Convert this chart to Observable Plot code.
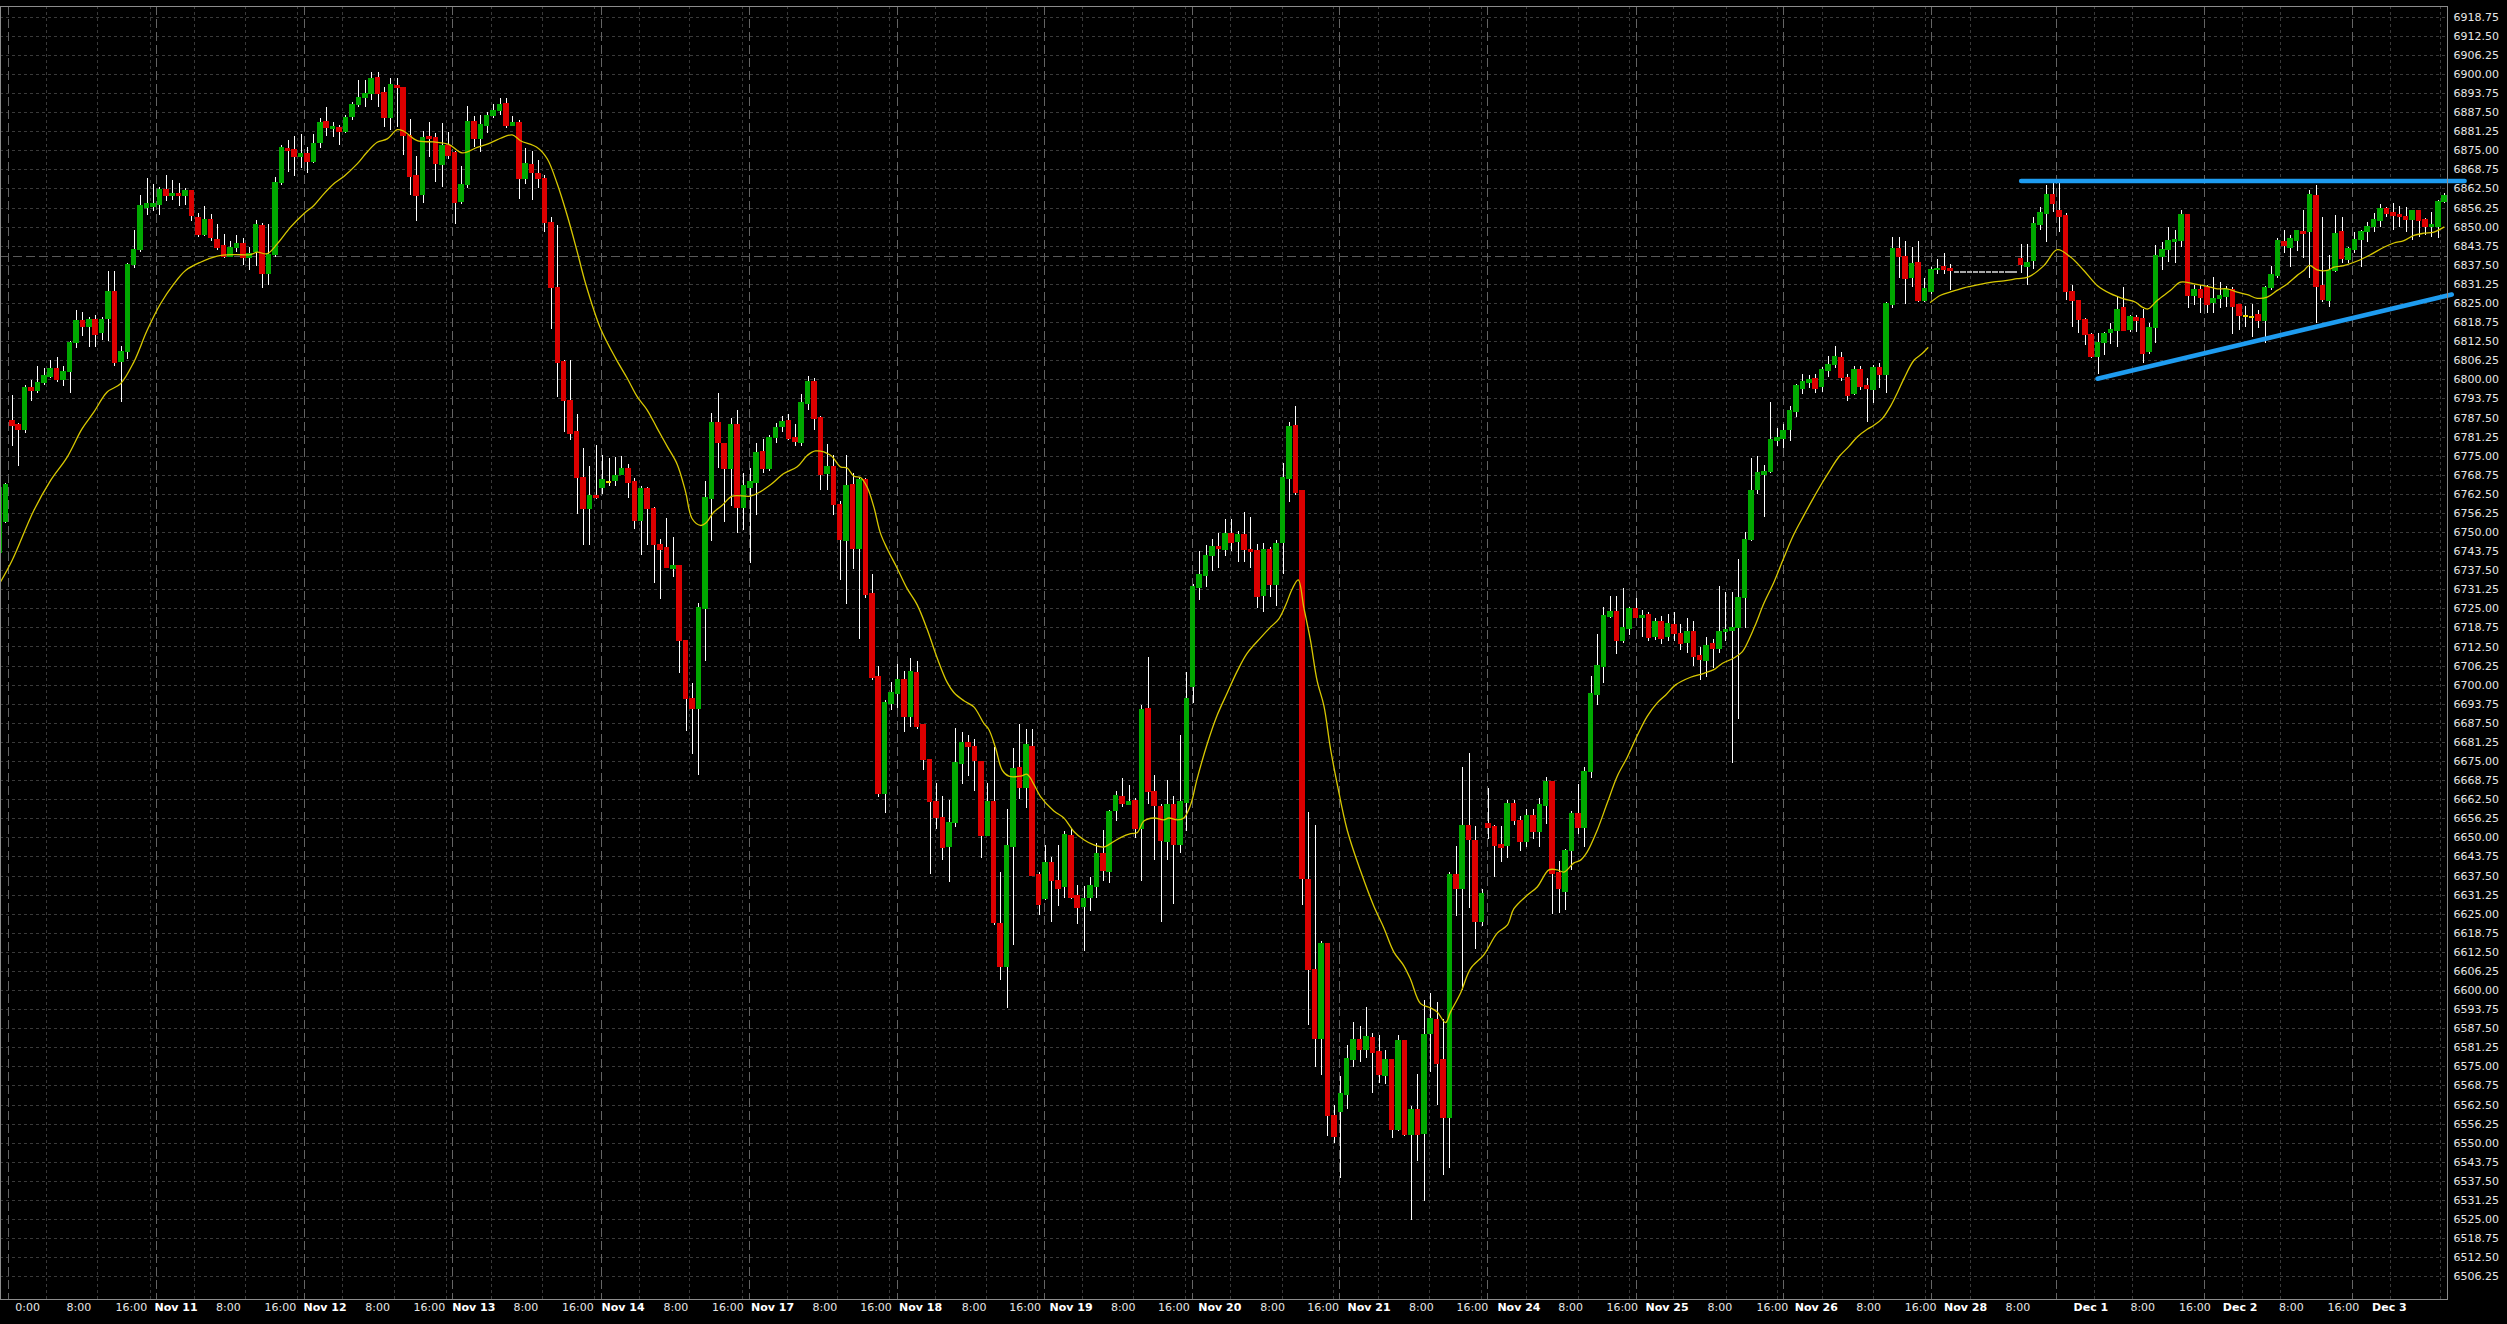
<!DOCTYPE html>
<html><head><meta charset="utf-8">
<script src="https://cdn.jsdelivr.net/npm/d3@7"></script>
<script src="https://cdn.jsdelivr.net/npm/@observablehq/plot@0.6"></script>
<style>
html,body{margin:0;padding:0;background:#000;overflow:hidden;}
svg{display:block;}
</style></head><body>
<script>
// Hourly candles, index 0..381
const opens = [
6743.5,6753.6,6786.4,6785.0,6783.6,6797.2,6796.5,6798.9,6801.1,6803.3,
6800.1,6802.5,6812.0,6819.1,6817.3,6819.6,6815.3,6819.9,6828.6,6805.8,
6809.1,6837.8,6842.7,6856.5,6856.8,6857.4,6862.2,6860.4,6860.9,6860.4,
6861.7,6853.0,6847.6,6852.2,6845.8,6843.8,6840.2,6843.4,6844.5,6840.0,
6841.8,6850.3,6834.9,6841.0,6864.5,6875.6,6875.1,6873.0,6873.8,6871.5,
6877.5,6884.4,6882.2,6882.5,6881.1,6886.0,6890.2,6892.3,6893.7,6898.6,
6893.9,6885.7,6896.1,6895.3,6879.7,6866.5,6860.5,6879.4,6879.1,6870.6,
6876.4,6874.2,6858.3,6863.8,6884.2,6879.1,6883.2,6886.5,6888.0,6890.2,
6883.2,6883.9,6865.7,6870.2,6867.2,6865.7,6851.3,6830.0,6805.6,6793.0,
6782.7,6767.8,6757.9,6761.9,6764.6,6766.35,6766.8,6768.9,6770.8,6766.35,
6754.0,6764.1,6757.7,6745.9,6744.8,6738.2,6738.9,6714.4,6695.5,6692.2,
6725.1,6761.2,6785.6,6779.0,6770.8,6785.2,6758.2,6764.6,6766.4,6776.3,
6770.8,6780.9,6784.6,6786.4,6780.7,6779.4,6792.3,6799.3,6787.4,6769.3,
6771.5,6759.0,6747.4,6765.3,6744.6,6767.1,6729.6,6702.6,6664.5,6693.9,
6697.2,6701.6,6689.8,6704.0,6686.9,6675.5,6661.6,6656.4,6647.0,6654.8,
6674.2,6680.8,6679.8,6674.8,6650.8,6661.5,6621.6,6607.7,6647.2,6672.8,
6666.4,6679.8,6637.7,6630.0,6641.7,6635.7,6634.1,6650.4,6630.7,6627.6,
6630.3,6634.1,6644.5,6639.0,6658.8,6663.2,6660.8,6662.1,6653.0,6692.2,
6664.8,6660.1,6648.8,6660.8,6647.7,6661.5,6699.6,6731.9,6735.9,6742.3,
6745.2,6744.3,6749.3,6747.0,6749.0,6744.3,6743.7,6729.2,6744.2,6732.9,
6746.5,6767.7,6784.7,6763.4,6636.2,6606.7,6584.1,6615.2,6558.9,6560.2,
6565.9,6577.4,6583.6,6580.6,6584.5,6579.7,6572.1,6577.1,6554.3,6583.3,
6552.7,6560.7,6553.1,6585.9,6590.4,6577.1,6558.4,6637.8,6633.3,6653.9,
6648.9,6622.7,6654.3,6653.4,6647.5,6647.5,6661.0,6655.5,6648.6,6657.0,
6652.1,6660.5,6668.1,6638.3,6632.4,6645.7,6657.8,6653.4,6671.6,6696.9,
6706.1,6722.4,6723.8,6714.6,6718.5,6724.9,6722.0,6722.8,6715.8,6720.5,
6715.9,6719.7,6716.8,6713.9,6717.4,6709.6,6708.0,6713.3,6711.8,6717.4,
6717.7,6718.7,6728.7,6747.5,6764.0,6769.0,6769.8,6780.1,6780.7,6783.6,
6789.7,6797.0,6799.2,6800.1,6797.6,6803.0,6804.8,6807.0,6800.5,6795.5,
6803.0,6797.9,6796.6,6803.9,6801.8,6824.6,6842.7,6840.2,6833.3,6838.0,
6825.8,6828.7,6836.0,6836.7,6836.1,6835.2,6835.2,6835.2,6835.2,6835.2,
6835.2,6835.2,6835.2,6835.2,6835.2,6839.4,6837.2,6839.1,6850.9,6854.4,
6860.4,6855.1,6853.5,6828.7,6825.8,6819.4,6814.5,6807.6,6812.0,6815.3,
6816.2,6823.3,6816.4,6820.3,6819.7,6809.1,6817.2,6840.4,6842.6,6845.1,
6845.6,6853.8,6827.6,6829.3,6830.1,6825.1,6826.5,6827.3,6829.3,6824.3,
6820.8,6820.5,6821.1,6819.2,6830.0,6834.2,6845.1,6843.4,6845.4,6848.4,
6848.4,6860.0,6830.6,6826.0,6835.6,6848.4,6839.4,6842.6,6845.9,6848.6,
6850.0,6852.2,6855.7,6854.4,6853.8,6853.3,6852.4,6855.1,6852.2,6850.0,
6850.2,6858.2];
const highs = [
6765.0,6766.0,6794.9,6785.6,6798.1,6799.8,6804.4,6803.6,6806.3,6807.4,
6804.4,6812.7,6822.7,6822.2,6820.5,6821.1,6820.5,6835.6,6835.6,6810.9,
6838.0,6848.9,6860.4,6866.0,6864.0,6863.1,6866.8,6865.3,6864.4,6862.8,
6862.0,6854.4,6856.8,6854.1,6850.9,6847.6,6845.4,6847.3,6846.2,6843.4,
6852.2,6851.1,6850.9,6866.4,6876.7,6878.4,6879.7,6880.3,6876.2,6880.3,
6885.5,6889.3,6884.1,6883.3,6886.6,6890.9,6898.0,6898.0,6900.5,6900.5,
6895.6,6898.6,6898.6,6895.6,6885.3,6873.1,6881.3,6884.2,6880.5,6883.9,
6881.0,6874.9,6869.7,6889.4,6886.2,6886.5,6887.7,6890.2,6892.1,6892.1,
6886.2,6885.0,6875.8,6874.9,6871.9,6866.9,6853.1,6850.6,6806.4,6806.4,
6788.6,6777.5,6771.5,6778.5,6775.2,6774.1,6774.5,6774.9,6772.3,6767.8,
6764.9,6764.6,6758.2,6747.8,6754.5,6748.5,6739.2,6714.7,6700.4,6726.6,
6766.6,6789.0,6795.6,6779.3,6787.4,6790.1,6769.3,6770.8,6779.3,6780.4,
6781.9,6785.6,6787.9,6788.6,6785.3,6795.3,6801.2,6800.5,6787.9,6778.9,
6775.1,6760.0,6775.1,6769.3,6768.0,6767.7,6736.3,6706.2,6694.9,6700.9,
6706.9,6704.6,6708.6,6707.8,6687.2,6675.8,6667.7,6663.7,6662.1,6685.8,
6684.6,6683.5,6682.2,6675.1,6667.7,6679.5,6638.7,6659.2,6679.2,6687.1,
6685.5,6685.5,6638.7,6647.4,6643.7,6647.4,6652.1,6652.8,6634.5,6634.1,
6637.0,6648.1,6652.5,6658.8,6665.1,6669.5,6667.1,6662.8,6693.5,6708.9,
6670.4,6660.8,6668.8,6663.5,6683.5,6704.2,6733.0,6743.7,6745.7,6747.6,
6749.7,6754.1,6754.1,6750.3,6756.7,6755.0,6746.2,6746.5,6745.1,6747.4,
6772.6,6786.1,6791.3,6763.6,6658.2,6653.9,6616.1,6615.5,6562.5,6571.7,
6581.9,6589.5,6588.1,6594.3,6585.9,6585.4,6580.3,6577.4,6585.4,6583.6,
6562.0,6572.6,6596.6,6598.9,6596.0,6590.4,6638.6,6647.2,6672.9,6677.7,
6653.7,6633.0,6666.3,6653.9,6653.7,6662.2,6662.2,6656.9,6659.2,6659.2,
6662.8,6669.9,6668.5,6642.2,6646.3,6658.7,6667.6,6672.9,6703.0,6716.7,
6725.3,6729.2,6729.2,6731.5,6725.3,6728.5,6724.4,6723.7,6721.8,6722.4,
6723.1,6723.7,6719.9,6721.8,6720.8,6712.4,6715.5,6714.9,6732.2,6730.2,
6730.2,6741.2,6750.0,6774.2,6775.0,6771.9,6792.6,6784.1,6785.5,6791.1,
6798.6,6801.6,6801.4,6801.6,6804.1,6807.6,6810.8,6808.9,6801.7,6804.2,
6804.5,6800.4,6804.8,6805.4,6825.4,6846.5,6846.5,6845.2,6843.4,6845.2,
6833.3,6836.7,6839.3,6841.2,6837.7,6835.2,6835.2,6835.2,6835.2,6835.2,
6835.2,6835.2,6835.2,6835.2,6835.2,6844.3,6844.3,6853.3,6856.5,6863.6,
6864.2,6864.2,6854.4,6830.9,6826.0,6820.0,6815.1,6815.3,6815.6,6818.3,
6827.1,6830.1,6821.1,6821.1,6822.9,6818.6,6844.0,6845.1,6850.0,6848.9,
6855.5,6854.1,6830.9,6830.9,6830.9,6833.4,6832.0,6830.4,6830.1,6824.7,
6824.0,6824.7,6822.7,6830.4,6837.1,6846.2,6848.9,6847.3,6848.9,6855.4,
6862.0,6863.6,6853.3,6840.7,6853.8,6853.3,6843.4,6848.4,6848.9,6851.6,
6854.4,6857.4,6856.5,6857.6,6856.8,6856.5,6855.5,6855.5,6852.7,6854.9,
6858.7,6860.9];
const lows = [
6742.0,6753.0,6778.0,6771.7,6782.3,6793.0,6795.4,6798.1,6800.3,6799.2,
6797.8,6795.6,6810.4,6814.2,6810.7,6810.7,6812.9,6812.7,6804.2,6792.7,
6806.6,6836.4,6841.8,6853.8,6855.2,6853.8,6858.5,6858.7,6856.9,6857.1,
6852.0,6846.7,6847.0,6845.4,6842.3,6839.6,6840.0,6841.8,6837.4,6835.8,
6837.1,6829.8,6830.9,6840.2,6863.6,6868.0,6866.6,6869.1,6867.7,6870.7,
6875.9,6879.7,6879.5,6876.7,6880.6,6884.9,6889.3,6889.1,6891.5,6889.3,
6882.5,6881.7,6882.7,6873.5,6860.5,6852.0,6857.8,6872.8,6864.7,6863.0,
6872.2,6850.9,6857.3,6862.5,6876.1,6874.6,6880.5,6885.7,6886.5,6882.3,
6882.8,6859.0,6863.8,6858.6,6862.7,6848.4,6816.5,6794.1,6782.9,6780.0,
6755.9,6745.9,6745.9,6760.7,6762.6,6764.9,6765.2,6768.6,6761.2,6751.1,
6742.6,6745.6,6733.3,6728.2,6738.2,6735.2,6703.8,6684.8,6677.4,6670.4,
6707.8,6747.1,6770.8,6753.4,6758.6,6749.7,6750.5,6739.9,6755.7,6769.3,
6770.1,6779.0,6782.7,6780.0,6778.2,6778.2,6790.1,6783.4,6763.7,6763.7,
6755.7,6734.3,6726.3,6738.0,6714.8,6728.3,6701.6,6663.2,6658.1,6691.8,
6692.2,6684.6,6686.2,6685.5,6672.2,6638.1,6652.8,6642.7,6635.4,6653.4,
6667.5,6670.2,6665.1,6643.2,6650.4,6621.4,6603.3,6594.0,6614.7,6662.5,
6659.7,6637.4,6624.7,6629.5,6622.3,6627.6,6630.3,6629.8,6621.6,6612.7,
6626.0,6630.0,6635.7,6635.0,6655.2,6660.1,6660.5,6649.8,6635.7,6660.8,
6642.7,6622.3,6642.7,6628.1,6645.0,6652.1,6693.9,6727.6,6731.9,6737.3,
6738.3,6742.1,6743.9,6740.3,6740.3,6738.3,6725.2,6723.8,6728.8,6725.8,
6736.3,6759.9,6762.2,6628.0,6588.6,6574.7,6572.1,6552.2,6549.9,6538.5,
6561.1,6574.7,6576.5,6577.9,6566.4,6569.4,6569.1,6551.7,6554.0,6552.2,
6524.7,6543.9,6530.9,6573.0,6562.3,6539.3,6541.6,6624.4,6600.1,6626.8,
6613.4,6620.9,6649.3,6636.9,6641.8,6643.3,6653.9,6645.4,6646.8,6649.3,
6646.8,6654.3,6625.0,6625.3,6626.2,6639.2,6651.1,6646.8,6669.3,6693.3,
6700.4,6721.7,6710.2,6713.7,6716.4,6721.7,6715.5,6714.3,6714.5,6713.4,
6714.3,6714.3,6711.2,6710.5,6706.1,6701.4,6702.6,6705.5,6710.5,6714.3,
6674.2,6688.9,6718.7,6746.9,6762.5,6754.8,6769.4,6778.2,6777.6,6779.8,
6787.8,6795.1,6797.0,6795.4,6795.7,6800.7,6803.6,6799.5,6792.9,6794.9,
6796.4,6786.1,6792.4,6797.0,6795.5,6823.3,6833.3,6824.6,6830.2,6825.4,
6825.4,6827.9,6834.6,6834.6,6829.3,6835.2,6835.2,6835.2,6835.2,6835.2,
6835.2,6835.2,6835.2,6835.2,6835.2,6834.9,6830.9,6836.0,6848.9,6845.1,
6854.9,6848.4,6826.0,6817.0,6815.3,6811.2,6806.9,6801.8,6808.0,6811.6,
6810.7,6815.9,6815.6,6815.6,6805.2,6808.3,6811.8,6835.8,6838.5,6838.2,
6843.4,6823.3,6824.3,6821.6,6821.6,6821.6,6823.3,6823.8,6814.8,6816.2,
6817.0,6814.0,6816.7,6812.0,6829.3,6833.1,6841.3,6836.9,6842.1,6839.6,
6833.1,6818.3,6825.4,6823.8,6835.3,6838.0,6838.0,6841.3,6836.9,6845.1,
6848.4,6850.0,6853.3,6848.9,6850.0,6848.4,6845.6,6846.7,6847.3,6846.5,
6846.2,6857.6];
const closes = [
6764.5,6765.4,6785.0,6783.6,6797.2,6796.5,6798.7,6801.1,6803.3,6800.1,
6802.5,6812.0,6819.1,6817.3,6819.4,6814.8,6819.4,6828.6,6805.5,6809.0,
6837.5,6842.4,6856.8,6857.4,6857.4,6862.0,6860.4,6860.9,6860.4,6861.7,
6853.6,6847.6,6852.2,6846.4,6843.1,6840.2,6843.0,6844.5,6840.0,6841.0,
6850.5,6834.9,6840.7,6864.5,6875.9,6875.1,6873.1,6874.0,6871.3,6877.1,
6884.0,6882.4,6882.7,6881.1,6885.8,6889.8,6892.2,6893.4,6898.4,6893.7,
6885.7,6896.4,6895.5,6880.0,6866.5,6860.2,6879.1,6878.8,6870.9,6876.4,
6873.4,6858.0,6863.8,6884.2,6879.1,6883.2,6886.2,6887.8,6889.9,6883.1,
6883.9,6865.7,6870.5,6867.9,6866.0,6851.3,6830.0,6805.6,6793.3,6782.4,
6768.1,6757.9,6761.9,6761.5,6767.1,6766.35,6768.3,6770.8,6766.35,6753.7,
6764.1,6757.9,6746.0,6744.5,6738.5,6738.9,6714.4,6695.5,6692.2,6725.1,
6761.2,6785.6,6779.3,6770.8,6785.2,6758.2,6765.2,6766.4,6776.0,6770.8,
6780.7,6784.1,6786.2,6780.7,6779.7,6792.3,6799.3,6787.4,6768.9,6771.5,
6759.0,6747.7,6765.0,6744.6,6767.1,6729.6,6702.6,6664.5,6693.9,6697.2,
6701.6,6689.8,6704.2,6686.5,6675.5,6661.9,6656.5,6646.8,6654.8,6674.4,
6681.1,6680.0,6675.2,6650.8,6661.5,6622.3,6607.7,6647.2,6672.6,6666.4,
6680.2,6637.7,6628.1,6641.7,6636.1,6633.4,6650.8,6630.3,6627.1,6630.0,
6634.1,6644.5,6639.4,6658.4,6663.5,6661.1,6661.5,6653.0,6691.8,6665.1,
6660.5,6649.0,6660.8,6647.7,6661.5,6695.5,6731.9,6735.9,6742.3,6745.2,
6744.6,6749.3,6746.7,6749.0,6744.3,6743.7,6729.0,6744.2,6732.9,6746.0,
6767.7,6784.4,6763.0,6636.5,6606.7,6584.1,6615.2,6558.9,6552.2,6565.9,
6577.4,6583.6,6580.6,6584.7,6579.7,6572.3,6577.1,6554.3,6583.3,6552.7,
6560.7,6552.7,6585.4,6590.7,6576.2,6558.4,6637.8,6633.3,6653.9,6649.3,
6622.7,6631.5,6653.4,6647.5,6646.8,6661.0,6655.5,6648.6,6657.0,6652.1,
6660.5,6668.1,6638.3,6633.3,6645.7,6657.8,6653.4,6671.6,6696.9,6706.1,
6722.6,6723.8,6714.6,6718.5,6724.9,6722.2,6722.7,6715.5,6720.5,6715.2,
6719.9,6716.8,6713.7,6717.4,6709.3,6708.3,6712.6,6711.8,6717.4,6718.0,
6718.7,6728.4,6747.5,6763.5,6769.3,6769.7,6780.1,6780.7,6783.2,6789.7,
6797.9,6799.1,6799.9,6797.0,6803.0,6804.8,6807.3,6800.7,6794.9,6803.0,
6797.9,6797.0,6803.9,6801.8,6824.6,6842.7,6840.2,6833.0,6837.7,6825.8,
6829.8,6835.8,6836.1,6836.2,6835.6,6835.2,6835.2,6835.2,6835.2,6835.2,
6835.2,6835.2,6835.2,6835.2,6835.2,6837.8,6838.3,6850.9,6854.4,6860.4,
6857.6,6853.3,6828.7,6825.8,6819.7,6814.8,6807.6,6812.0,6814.8,6816.2,
6822.9,6816.2,6820.5,6819.4,6808.7,6817.0,6840.4,6842.4,6845.4,6845.6,
6853.8,6827.6,6829.3,6826.9,6824.7,6826.5,6827.3,6829.3,6824.0,6821.1,
6820.8,6820.5,6819.2,6830.0,6834.2,6845.4,6843.8,6845.9,6848.6,6847.8,
6860.4,6830.4,6826.2,6835.6,6847.8,6839.6,6842.6,6845.6,6848.4,6850.0,
6852.2,6855.7,6854.4,6853.8,6853.3,6852.4,6855.1,6852.0,6850.0,6850.5,
6858.2,6860.0];

// Moving average: [bar index, price]
const maPart1 = [
[0.17,6733.8],[1.99,6740.9],[5.36,6757.2],[7.96,6767.0],[10.56,6774.7],[12.89,6784.0],[14.71,6789.4],[16.79,6796.0],
[18.87,6798.7],[20.94,6805.8],[23.02,6816.2],[25.10,6824.9],[27.18,6831.4],[29.00,6835.8],[31.33,6838.5],[33.93,6840.5],
[36.52,6841.0],[39.12,6841.0],[40.16,6841.8],[41.72,6841.3],[43.28,6844.5],[45.36,6850.0],[47.43,6854.4],[48.99,6857.1],
[50.55,6860.9],[52.10,6864.2],[53.66,6866.6],[55.74,6870.7],[57.30,6874.6],[58.86,6877.8],[60.42,6878.9],[61.98,6881.9],
[63.01,6881.4],[65.09,6878.3],[67.69,6877.9],[70.02,6877.1],[72.10,6874.3],[74.44,6876.1],[76.52,6877.6],[78.08,6879.1],
[79.90,6880.2],[81.19,6878.3],[83.79,6876.1],[85.35,6872.4],[86.91,6864.2],[88.47,6853.8],[90.02,6842.0],[91.32,6831.6],
[93.66,6816.8],[96.00,6807.1],[97.82,6800.5],[99.37,6794.5],[100.93,6790.1],[102.49,6784.1],[104.05,6778.2],[105.61,6772.3],
[106.90,6763.4],[107.94,6754.5],[109.24,6752.3],[110.02,6753.0],[111.32,6756.7],[112.62,6758.9],[114.18,6761.9],[117.03,6761.9],
[118.59,6763.4],[120.15,6765.6],[122.22,6769.3],[124.30,6771.5],[125.86,6775.2],[127.16,6776.7],[129.50,6775.3],[131.05,6771.5],
[132.09,6771.1],[133.13,6768.4],[134.17,6768.0],[135.21,6764.8],[136.24,6758.4],[137.28,6749.7],[138.32,6744.7],[139.88,6738.3],
[141.44,6731.6],[143.00,6726.3],[144.55,6718.3],[146.11,6708.9],[147.67,6700.9],[148.71,6697.6],[150.27,6694.9],[151.82,6692.9],
[153.38,6687.5],[154.16,6685.5],[155.20,6679.5],[156.24,6672.2],[157.28,6670.2],[159.10,6670.2],[160.14,6670.8],[161.18,6667.5],
[162.21,6663.5],[164.29,6658.8],[165.85,6656.5],[167.40,6652.1],[168.96,6649.4],[170.52,6647.7],[172.08,6647.0],[173.12,6648.1],
[174.68,6650.1],[176.24,6651.4],[177.28,6651.7],[178.32,6655.5],[179.87,6656.5],[181.43,6655.9],[182.21,6656.5],[183.51,6655.9],
[184.55,6656.5],[185.59,6660.8],[186.63,6669.5],[188.19,6680.8],[189.75,6690.2],[191.31,6697.5],[192.86,6704.6],[194.42,6710.5],
[196.49,6715.5],[198.05,6719.0],[199.35,6721.7],[200.39,6726.1],[201.43,6731.5],[202.36,6734.5],[203.25,6725.3],[204.28,6714.6],
[205.32,6701.3],[206.36,6693.3],[207.40,6679.1],[208.44,6667.6],[210.00,6652.5],[212.07,6639.2],[214.15,6627.6],[215.71,6620.5],
[217.27,6612.6],[218.82,6608.1],[219.86,6603.7],[221.42,6595.7],[222.98,6594.3],[224.02,6593.0],[225.32,6589.5],[226.10,6593.0],
[227.66,6599.2],[229.22,6607.2],[231.29,6611.7],[233.37,6618.8],[234.93,6621.4],[235.97,6626.8],[238.04,6631.2],[239.60,6633.9],
[241.42,6639.5],[242.72,6639.5],[243.76,6638.8],[245.32,6641.8],[246.36,6642.7],[247.39,6645.4],[248.95,6652.5],[250.51,6661.4],
[252.07,6670.2],[253.63,6676.4],[255.19,6683.5],[256.74,6689.8],[258.30,6694.2],[259.59,6696.7],[261.15,6700.1],[263.49,6702.6],
[265.57,6703.9],[267.12,6705.1],[268.42,6707.1],[270.24,6708.9],[271.54,6710.9],[272.58,6714.9],[273.62,6719.9],[274.92,6726.8],
[276.48,6733.7],[278.04,6741.8],[279.59,6749.4],[281.15,6755.6],[282.45,6760.6],[284.01,6766.3],[285.31,6770.7],[286.61,6774.8],
[288.17,6778.2],[289.47,6781.3],[291.02,6783.8],[292.06,6785.1],[293.36,6787.3],[294.66,6791.4],[295.70,6795.7],[296.74,6800.4],
[298.30,6806.4],[299.59,6808.6],[300.47,6810.5]];
const maPart2 = [
[300.89,6825.4],[302.45,6827.7],[304.00,6828.8],[306.08,6830.1],[307.12,6830.6],[309.19,6831.5],[310.76,6832.1],[312.31,6832.4],
[314.39,6833.1],[316.05,6833.6],[318.54,6837.4],[320.62,6842.6],[322.70,6840.2],[324.77,6835.8],[326.85,6830.9],[328.93,6828.2],
[331.01,6826.5],[332.83,6825.4],[333.87,6823.8],[334.75,6823.2],[336.20,6826.0],[338.28,6829.3],[339.84,6832.0],[341.91,6831.4],
[344.00,6830.6],[345.56,6829.8],[347.11,6829.8],[348.67,6828.7],[350.23,6827.9],[351.79,6826.7],[353.35,6827.1],[354.90,6829.3],
[356.46,6831.4],[358.02,6834.2],[359.06,6835.8],[359.89,6837.5],[361.14,6836.0],[362.70,6835.8],[363.73,6836.9],[365.29,6837.4],
[367.37,6838.9],[369.45,6841.0],[371.52,6843.4],[373.08,6844.8],[374.64,6845.6],[376.20,6847.3],[377.76,6848.0],[379.32,6848.4],
[380.87,6850.0]];

// Drawn trend lines: [bar index, price]
const resistanceLine = [[315.0,6865.1],[384.1,6865.1]];
const supportLine = [[326.9,6800.35],[382.1,6827.95]];
const bidLevel = 6840.3;

// Price axis ticks
const priceTicks = [6506.25,6512.5,6518.75,6525,6531.25,6537.5,6543.75,6550,6556.25,6562.5,6568.75,6575,6581.25,6587.5,
6593.75,6600,6606.25,6612.5,6618.75,6625,6631.25,6637.5,6643.75,6650,6656.25,6662.5,6668.75,6675,6681.25,6687.5,6693.75,
6700,6706.25,6712.5,6718.75,6725,6731.25,6737.5,6743.75,6750,6756.25,6762.5,6768.75,6775,6781.25,6787.5,6793.75,6800,
6806.25,6812.5,6818.75,6825,6831.25,6837.5,6843.75,6850,6856.25,6862.5,6868.75,6875,6881.25,6887.5,6893.75,6900,6906.25,
6912.5,6918.75];

// Time axis labels (bar-index position of each label)
const timeTickPos = [2.46,10.45,18.09,24.17,33.76,41.30,47.38,56.99,64.52,70.57,80.10,87.67,93.81,103.47,111.03,117.11,
126.69,134.11,140.18,149.94,157.35,163.62,173.18,180.52,186.79,196.45,203.79,210.05,219.62,227.04,233.40,242.87,250.38,
256.48,266.14,273.78,279.74,289.30,296.87,302.99,312.56,323.17,332.02,339.59,346.43,355.17,362.74,369.68];
const timeTickText = ["0:00","8:00","16:00","Nov 11","8:00","16:00","Nov 12","8:00","16:00","Nov 13","8:00","16:00",
"Nov 14","8:00","16:00","Nov 17","8:00","16:00","Nov 18","8:00","16:00","Nov 19","8:00","16:00","Nov 20","8:00","16:00",
"Nov 21","8:00","16:00","Nov 24","8:00","16:00","Nov 25","8:00","16:00","Nov 26","8:00","16:00","Nov 28","8:00",
"Dec 1","8:00","16:00","Dec 2","8:00","16:00","Dec 3"];

// Session (day) separators and vertical grid, in bar-index units
const daySeparators = [1.46,24.52,47.60,70.67,93.75,116.83,139.89,162.81,185.86,208.87,231.92,255.02,278.03,301.09,320.48,343.59,366.59];
const timeGrid = [7.38,15.33,23.54,30.44,38.39,46.52,53.50,61.51,69.60,76.63,84.57,92.72,99.78,107.57,115.73,122.75,130.63,
138.69,145.85,153.76,161.70,168.71,176.75,184.81,191.82,199.87,207.82,214.83,222.87,230.88,237.94,245.99,253.99,260.89,
269.05,276.99,284.01,292.05,300.10,307.12,326.44,332.41,349.45,355.42,372.56,380.35];

// ---- build tables ----
const candles = opens.map((o, i) => ({i, o, h: highs[i], l: lows[i], c: closes[i]}));
const bodyColor = d => d.h === d.l ? "#a6a6a6" : d.c > d.o ? "#00a800" : d.c < d.o ? "#dc0000" : "#e6d400";
const halfBody = 0.43;
const maRows = [
  ...maPart1.map(([i, p]) => ({i, p, seg: 1})),
  ...maPart2.map(([i, p]) => ({i, p, seg: 2}))
];
const trendRows = [
  ...resistanceLine.map(([i, p]) => ({i, p, id: "r"})),
  ...supportLine.map(([i, p]) => ({i, p, id: "s"}))
];
const labelRows = timeTickPos.map((x, k) => ({x, text: timeTickText[k], day: /^[A-Z]/.test(timeTickText[k])}));

const chart = Plot.plot({
  width: 2507,
  height: 1324,
  marginLeft: 0,
  marginRight: 60,
  marginTop: 6,
  marginBottom: 25,
  x: {domain: [0.17, 381.43], axis: null},
  y: {domain: [6498.82, 6922.25], axis: null},
  color: {type: "identity"},
  style: {background: "#000", color: "#e6e6e6", fontFamily: "'DejaVu Sans', sans-serif", fontSize: "11px"},
  marks: [
    Plot.ruleY(priceTicks, {stroke: "#3a3a3a", strokeDasharray: "3,3", shapeRendering: "crispEdges"}),
    Plot.ruleX(timeGrid, {stroke: "#3a3a3a", strokeDasharray: "3,3", shapeRendering: "crispEdges"}),
    Plot.ruleX(daySeparators, {stroke: "#646464", strokeDasharray: "9,4", shapeRendering: "crispEdges"}),
    Plot.ruleY([bidLevel], {stroke: "#5a5a5a", strokeDasharray: "9,4", shapeRendering: "crispEdges"}),
    Plot.ruleX(candles.filter(d => d.h > d.l), {x: "i", y1: "l", y2: "h", stroke: "#ffffff", strokeWidth: 1, shapeRendering: "crispEdges"}),
    Plot.rect(candles, {
      x1: d => d.i - halfBody, x2: d => d.i + halfBody,
      y1: d => Math.min(d.o, d.c), y2: d => Math.max(d.o, d.c),
      fill: bodyColor, insetTop: -0.8, insetBottom: -0.8, shapeRendering: "crispEdges"
    }),
    Plot.line(maRows, {x: "i", y: "p", z: "seg", stroke: "#d8c800", strokeWidth: 1.3, curve: "catmull-rom"}),
    Plot.line(trendRows, {x: "i", y: "p", z: "id", stroke: "#1e9cf0", strokeWidth: 4.5}),
    Plot.frame({stroke: "#8c8c8c", shapeRendering: "crispEdges"}),
    Plot.axisY(priceTicks, {anchor: "right", tickSize: 0, tickPadding: 6, tickFormat: d => d.toFixed(2), fill: "#e6e6e6", fontSize: 11}),
    Plot.text(labelRows.filter(d => !d.day), {x: "x", text: "text", frameAnchor: "bottom", dy: 11, textAnchor: "start", fill: "#e6e6e6", fontSize: 11}),
    Plot.text(labelRows.filter(d => d.day), {x: "x", text: "text", frameAnchor: "bottom", dy: 11, textAnchor: "start", fill: "#ffffff", fontSize: 11, fontWeight: "bold"})
  ]
});
document.body.appendChild(chart);
</script>
</body></html>
